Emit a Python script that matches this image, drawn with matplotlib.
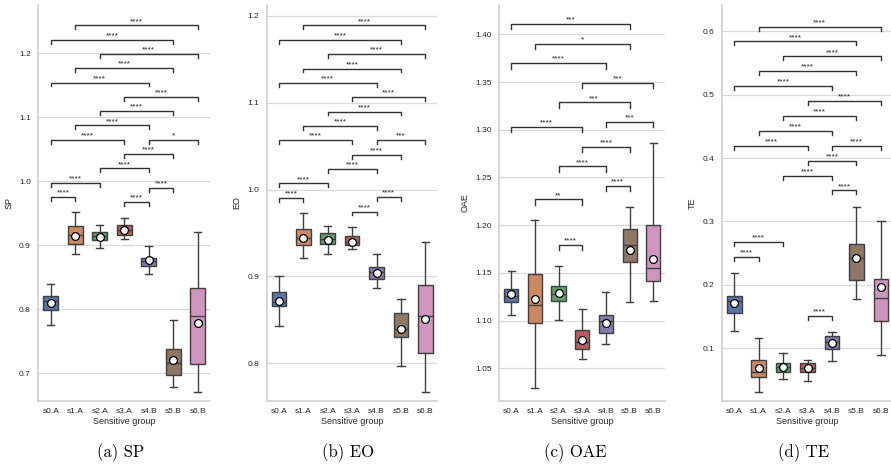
import colorsys
import matplotlib
matplotlib.use("Agg")
import matplotlib.pyplot as plt
import matplotlib.colors as mcolors

plt.rcParams['font.family'] = ['Liberation Sans', 'DejaVu Sans']

groups = ["s0.A", "s1.A", "s2.A", "s3.A", "s4.B", "s5.B", "s6.B"]

# per group: [whisker low, q1, median, q3, whisker high, mean]
sp_box = [[0.775, 0.798, 0.812, 0.821, 0.839, 0.810],
          [0.886, 0.901, 0.916, 0.930, 0.951, 0.915],
          [0.896, 0.908, 0.914, 0.920, 0.931, 0.913],
          [0.910, 0.916, 0.924, 0.931, 0.943, 0.923],
          [0.855, 0.868, 0.875, 0.880, 0.899, 0.877],
          [0.678, 0.697, 0.716, 0.738, 0.783, 0.720],
          [0.670, 0.714, 0.789, 0.833, 0.920, 0.779]]
eo_box = [[0.843, 0.866, 0.870, 0.882, 0.901, 0.872],
          [0.921, 0.936, 0.944, 0.954, 0.973, 0.944],
          [0.926, 0.937, 0.943, 0.950, 0.958, 0.942],
          [0.932, 0.936, 0.940, 0.947, 0.957, 0.940],
          [0.887, 0.897, 0.905, 0.911, 0.926, 0.904],
          [0.797, 0.830, 0.840, 0.858, 0.874, 0.840],
          [0.767, 0.812, 0.855, 0.890, 0.940, 0.851]]
oae_box = [[1.106, 1.119, 1.126, 1.133, 1.152, 1.128],
           [1.029, 1.097, 1.116, 1.149, 1.205, 1.123],
           [1.101, 1.120, 1.128, 1.136, 1.157, 1.129],
           [1.060, 1.070, 1.078, 1.090, 1.112, 1.080],
           [1.075, 1.087, 1.100, 1.106, 1.130, 1.097],
           [1.119, 1.161, 1.179, 1.196, 1.219, 1.174],
           [1.120, 1.141, 1.155, 1.200, 1.286, 1.165]]
te_box = [[0.128, 0.155, 0.174, 0.183, 0.218, 0.172],
          [0.031, 0.055, 0.063, 0.081, 0.116, 0.069],
          [0.051, 0.063, 0.070, 0.077, 0.092, 0.071],
          [0.049, 0.062, 0.069, 0.077, 0.081, 0.069],
          [0.080, 0.099, 0.110, 0.120, 0.125, 0.109],
          [0.178, 0.208, 0.243, 0.265, 0.323, 0.242],
          [0.090, 0.143, 0.180, 0.210, 0.300, 0.196]]

sp_pairs = [(0, 1), (3, 4), (4, 5), (0, 2), (2, 4), (3, 5), (4, 6), (0, 3), (1, 4),
            (2, 5), (3, 6), (0, 4), (1, 5), (2, 6), (0, 5), (1, 6)]
sp_labels = ["****"] * 6 + ["*"] + ["****"] * 9
eo_pairs = sp_pairs
eo_labels = ["****"] * 6 + ["***"] + ["****"] * 9
oae_pairs = [(2, 3), (4, 5), (1, 3), (2, 4), (3, 5), (4, 6), (0, 3), (2, 5), (3, 6),
             (0, 4), (1, 5), (0, 5)]
oae_labels = ["****", "****", "**", "****", "****", "***", "****", "***", "***",
              "****", "*", "***"]
te_pairs = sp_pairs
te_labels = ["****"] * 16

metrics = ["SP", "EO", "OAE", "TE"]
captions = ["(a) SP", "(b) EO", "(c) OAE", "(d) TE"]

deep = ["#4C72B0", "#DD8452", "#55A868", "#C44E52", "#8172B3", "#937860", "#DA8BC3"]


def desat(c, s=0.75):
    h, l, sat = colorsys.rgb_to_hls(*mcolors.to_rgb(c))
    return colorsys.hls_to_rgb(h, l, sat * s)


colors = [desat(c) for c in deep]
LINE = "#3f3f3f"
AX_H = 395.7  # axes height in px

fig = plt.figure(figsize=(8.91, 4.68), dpi=100)

panels = [
    (sp_box, sp_pairs, sp_labels, (0.657, 1.275), [0.7, 0.8, 0.9, 1.0, 1.1, 1.2], "%.1f", 14.3, 15.5),
    (eo_box, eo_pairs, eo_labels, (0.757, 1.2123), [0.8, 0.9, 1.0, 1.1, 1.2], "%.1f", 14.35, 15.3),
    (oae_box, oae_pairs, oae_labels, (1.016, 1.4307), [1.05, 1.10, 1.15, 1.20, 1.25, 1.30, 1.35, 1.40], "%.2f", 19.6, 21.0),
    (te_box, te_pairs, te_labels, (0.0173, 0.6415), [0.1, 0.2, 0.3, 0.4, 0.5, 0.6], "%.1f", 14.9, 16.5),
]
lefts = [0.0432, 0.2994, 0.5603, 0.8104]
widths = [0.1924, 0.1916, 0.1863, 0.1919]
cap_x = [0.1355, 0.3902, 0.6461, 0.9024]


def add_brackets(ax, box, pairs, labels, step_px, box_px):
    lo, hi = ax.get_ylim()
    px = (hi - lo) / AX_H
    level = [None] * len(box)
    order = sorted(range(len(pairs)), key=lambda k: (pairs[k][1] - pairs[k][0], pairs[k][0]))
    for k in order:
        a, b = pairs[k]
        cand = []
        for g in range(a, b + 1):
            if level[g] is None:
                cand.append(box[g][4] + box_px * px)
            else:
                cand.append(level[g] + step_px * px)
        y = max(cand)
        t = 0.27 * step_px * px
        ax.plot([a, a, b, b], [y - t, y, y, y - t], color="#333333", lw=1.0, clip_on=False)
        ax.annotate(labels[k], xy=((a + b) / 2, y), xytext=(0, 0.3), textcoords="offset points",
                    ha="center", va="bottom", fontsize=6, color="#222222")
        for g in range(a, b + 1):
            level[g] = y


for i, (box, pairs, labels, ylim, yticks, fmt, step_px, box_px) in enumerate(panels):
    ax = fig.add_axes([lefts[i], 0.1438, widths[i], 0.8455])
    stats = [dict(whislo=r[0], q1=r[1], med=r[2], q3=r[3], whishi=r[4], mean=r[5], fliers=[])
             for r in box]
    bp = ax.bxp(stats, positions=range(len(groups)), widths=0.6, patch_artist=True,
                showmeans=True, showfliers=False,
                boxprops=dict(edgecolor=LINE, linewidth=1.0),
                whiskerprops=dict(color=LINE, linewidth=1.0),
                capprops=dict(color=LINE, linewidth=1.0),
                medianprops=dict(color=LINE, linewidth=1.0),
                meanprops=dict(marker="o", markerfacecolor="white", markeredgecolor="black",
                               markersize=5.6, markeredgewidth=0.9))
    for patch, c in zip(bp["boxes"], colors):
        patch.set_facecolor(c)
    ax.set_xlim(-0.5, 6.5)
    ax.set_ylim(*ylim)
    ax.set_yticks(yticks)
    ax.set_yticklabels([fmt % v for v in yticks])
    ax.set_xticks(range(len(groups)))
    ax.set_xticklabels(groups)
    ax.tick_params(axis="both", length=0, labelsize=6, colors="#262626")
    ax.tick_params(axis="y", pad=5.5)
    ax.tick_params(axis="x", pad=5)
    ax.set_axisbelow(True)
    ax.yaxis.grid(True, color="#d9d9d9", lw=0.9)
    for s in ["top", "right"]:
        ax.spines[s].set_visible(False)
    for s in ["left", "bottom"]:
        ax.spines[s].set_color("#cccccc")
        ax.spines[s].set_linewidth(1.1)
    ax.set_xlabel("Sensitive group", fontsize=6.5, color="#262626", labelpad=2)
    ax.set_ylabel(metrics[i], fontsize=6.5, color="#262626", labelpad=4)
    add_brackets(ax, box, pairs, labels, step_px, box_px)
    fig.text(cap_x[i], 0.032, captions[i], ha="center", va="center", fontsize=12, family="cmr10")

fig.savefig("out.png", dpi=100)
